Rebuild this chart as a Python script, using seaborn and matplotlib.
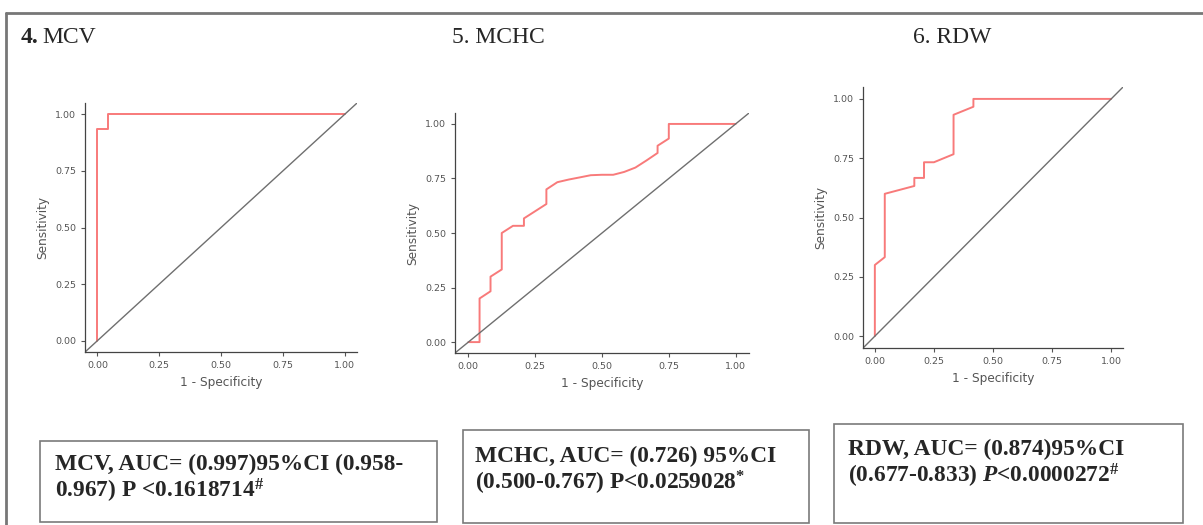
import numpy as np
import pandas as pd
import matplotlib
matplotlib.use("Agg")
import matplotlib.pyplot as plt
from matplotlib.patches import Rectangle
from matplotlib.lines import Line2D
import seaborn as sns

# ROC points (1 - specificity, sensitivity)
mcv_fpr = [0.0, 0.0, 0.042, 0.042, 1.0]
mcv_tpr = [0.0, 0.933, 0.933, 1.0, 1.0]

mchc_fpr = [0.0, 0.042, 0.042, 0.083, 0.083, 0.125, 0.125, 0.167, 0.208, 0.208,
            0.292, 0.292, 0.333, 0.375, 0.417, 0.458, 0.5, 0.542, 0.583, 0.625,
            0.667, 0.708, 0.708, 0.75, 0.75, 1.0]
mchc_tpr = [0.0, 0.0, 0.2, 0.233, 0.3, 0.333, 0.5, 0.533, 0.533, 0.567,
            0.633, 0.7, 0.733, 0.745, 0.755, 0.765, 0.767, 0.767, 0.78, 0.8,
            0.833, 0.867, 0.9, 0.933, 1.0, 1.0]

rdw_fpr = [0.0, 0.0, 0.042, 0.042, 0.167, 0.167, 0.208, 0.208, 0.25, 0.333,
           0.333, 0.417, 0.417, 1.0]
rdw_tpr = [0.0, 0.3, 0.333, 0.6, 0.633, 0.667, 0.667, 0.733, 0.733, 0.767,
           0.933, 0.967, 1.0, 1.0]

titles = ["4. MCV", "5. MCHC", "6. RDW"]
box_line1 = ["MCV, AUC= (0.997)95%CI (0.958-",
             "MCHC, AUC= (0.726) 95%CI",
             "RDW, AUC= (0.874)95%CI"]
box_line2 = [r"0.967) P <0.1618714$^{\#}$",
             r"(0.500-0.767) P<0.0259028$^{*}$",
             r"(0.677-0.833) $\mathit{P}$<0.0000272$^{\#}$"]

sns.set_style("ticks")
plt.rcParams["mathtext.fontset"] = "custom"
plt.rcParams["mathtext.rm"] = "Liberation Serif:bold"
plt.rcParams["mathtext.it"] = "Liberation Serif:italic:bold"

fig = plt.figure(figsize=(12.03, 5.25), dpi=100)

ax_pos = [[0.0707, 0.3295, 0.2261, 0.4743],
          [0.3782, 0.3276, 0.2444, 0.4571],
          [0.7174, 0.3371, 0.2161, 0.4971]]

curves = [(mcv_fpr, mcv_tpr), (mchc_fpr, mchc_tpr), (rdw_fpr, rdw_tpr)]
for pos, (fpr, tpr) in zip(ax_pos, curves):
    ax = fig.add_axes(pos)
    df = pd.DataFrame({"fpr": fpr, "tpr": tpr})
    sns.lineplot(data=df, x="fpr", y="tpr", sort=False, estimator=None,
                 color="#f87a7a", linewidth=1.4, ax=ax)
    ax.axline((0, 0), (1, 1), color="#6f6f6f", linewidth=1.0)
    ax.set_xlim(-0.05, 1.05)
    ax.set_ylim(-0.05, 1.05)
    ticks = [0, 0.25, 0.5, 0.75, 1.0]
    ax.set_xticks(ticks)
    ax.set_yticks(ticks)
    ax.set_xticklabels(["0.00", "0.25", "0.50", "0.75", "1.00"])
    ax.set_yticklabels(["0.00", "0.25", "0.50", "0.75", "1.00"])
    ax.tick_params(labelsize=6.8, colors="#555555", length=3, width=0.8)
    ax.set_xlabel("1 - Specificity", fontsize=8.7, color="#555555")
    ax.set_ylabel("Sensitivity", fontsize=8.7, color="#555555")
    for s in ["left", "bottom"]:
        ax.spines[s].set_color("#444444")
        ax.spines[s].set_linewidth(0.9)
    sns.despine(ax=ax)

# panel titles
serif = "Liberation Serif"
fig.text(21 / 1203, 1 - 43 / 525, "4.", fontsize=17, family=serif,
         fontweight="bold", va="baseline")
fig.text(42 / 1203, 1 - 43 / 525, "MCV", fontsize=17, family=serif, va="baseline")
fig.text(452 / 1203, 1 - 43 / 525, titles[1], fontsize=17, family=serif, va="baseline")
fig.text(913 / 1203, 1 - 43 / 525, titles[2], fontsize=17, family=serif, va="baseline")

# text boxes
boxes = [[40, 441, 437, 522], [463, 430, 809, 523], [834, 424, 1183, 523]]
text_x = [55, 475, 848]
base1 = [470, 462, 455]
for i, (x0, y0, x1, y1) in enumerate(boxes):
    fig.add_artist(Rectangle((x0 / 1203, 1 - y1 / 525), (x1 - x0) / 1203,
                             (y1 - y0) / 525, transform=fig.transFigure,
                             facecolor="white", edgecolor="#7a7a7a", linewidth=1.2))
    fig.text(text_x[i] / 1203, 1 - base1[i] / 525, box_line1[i], fontsize=16.8,
             family=serif, fontweight="bold", va="baseline")
    fig.text(text_x[i] / 1203, 1 - (base1[i] + 28) / 525, box_line2[i], fontsize=16.8,
             family=serif, fontweight="bold", va="baseline")

# outer frame lines
fig.add_artist(Line2D([6 / 1203, 1.0], [1 - 13 / 525, 1 - 13 / 525],
                      transform=fig.transFigure, color="#777777", linewidth=2))
fig.add_artist(Line2D([6 / 1203, 6 / 1203], [0.0, 1 - 13 / 525],
                      transform=fig.transFigure, color="#777777", linewidth=2))

fig.savefig("out.png", dpi=100)
